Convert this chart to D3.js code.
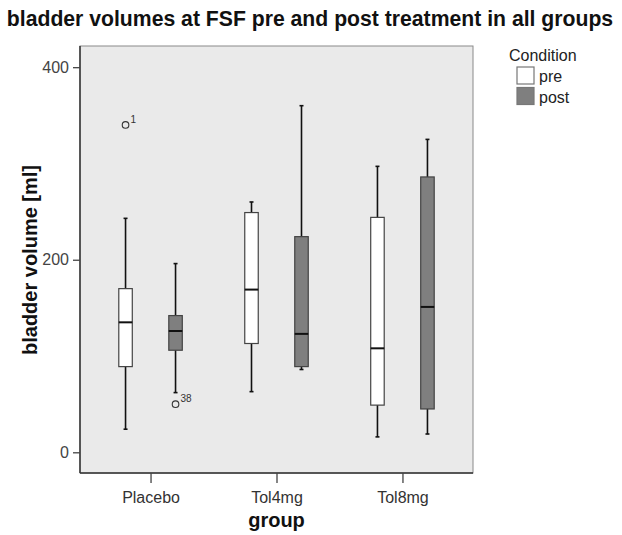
<!DOCTYPE html>
<html>
<head>
<meta charset="utf-8">
<script src="https://cdn.jsdelivr.net/npm/d3@7"></script>
<style>
  body { margin: 0; background: #fff; }
  text { font-family: "Liberation Sans", Arial, sans-serif; }
</style>
</head>
<body>
<svg id="chart"></svg>
<script>
// Chart data
const groups = ["Placebo", "Tol4mg", "Tol8mg"];
const conditions = ["pre", "post"];
const yTicks = [0, 200, 400];

// [whiskerLow, q1, median, q3, whiskerHigh] per group, per condition
const preStats = [
  [24, 89, 135, 170, 243],
  [63, 113, 169, 249, 260],
  [16, 49, 108, 244, 297]
];
const postStats = [
  [62, 106, 126, 142, 196],
  [86, 89, 123, 224, 360],
  [19, 45, 151, 286, 325]
];
// outliers: group, condition, value, case label
const outlierGroups = ["Placebo", "Placebo"];
const outlierConds = ["pre", "post"];
const outlierValues = [340, 50];
const outlierLabels = ["1", "38"];

const W = 622, H = 535;
const plot = { left: 80, right: 473, top: 46, bottom: 473 };

const svg = d3.select("#chart").attr("width", W).attr("height", H);

const x = d3.scalePoint().domain(groups).range([plot.left, plot.right]).padding(0.56);
const xSub = d3.scaleBand().domain(conditions).range([-50, 50]);
const y = d3.scaleLinear().domain([-21.5, 422]).range([plot.bottom, plot.top]);
const fill = d3.scaleOrdinal().domain(conditions).range(["#ffffff", "#7f7f7f"]);

const boxW = 13.5;

// title
svg.append("text")
  .attr("x", 310).attr("y", 26)
  .attr("text-anchor", "middle")
  .attr("font-size", 21.2).attr("font-weight", "bold").attr("fill", "#111")
  .text("bladder volumes at FSF pre and post treatment in all groups");

// plot background
svg.append("rect")
  .attr("x", plot.left).attr("y", plot.top)
  .attr("width", plot.right - plot.left).attr("height", plot.bottom - plot.top)
  .attr("fill", "#eaeaea").attr("stroke", "#8a8a8a").attr("stroke-width", 1);

// axes
const yAxis = d3.axisLeft(y).tickValues(yTicks).tickSize(7).tickPadding(4);
const yG = svg.append("g").attr("transform", `translate(${plot.left},0)`).call(yAxis);
yG.select(".domain").attr("stroke", "#333").attr("stroke-width", 1.5)
  .attr("d", `M0,${plot.top}V${plot.bottom}`);
yG.selectAll(".tick line").attr("stroke", "#444").attr("stroke-width", 1.3);
yG.selectAll(".tick text").attr("font-size", 16).attr("fill", "#444")
  .attr("font-family", "Liberation Sans, Arial, sans-serif");

const xAxis = d3.axisBottom(x).tickSize(10).tickPadding(9);
const xG = svg.append("g").attr("transform", `translate(0,${plot.bottom})`).call(xAxis);
xG.select(".domain").attr("stroke", "#333").attr("stroke-width", 1.5)
  .attr("d", `M${plot.left},0H${plot.right}`);
xG.selectAll(".tick line").attr("stroke", "#444").attr("stroke-width", 1.3);
xG.selectAll(".tick text").attr("font-size", 16).attr("fill", "#333")
  .attr("font-family", "Liberation Sans, Arial, sans-serif");

// axis titles
svg.append("text")
  .attr("x", x("Tol4mg")).attr("y", 527)
  .attr("text-anchor", "middle")
  .attr("font-size", 20).attr("font-weight", "bold").attr("fill", "#111")
  .text("group");

svg.append("text")
  .attr("transform", `translate(37,260) rotate(-90)`)
  .attr("text-anchor", "middle")
  .attr("font-size", 20).attr("font-weight", "bold").attr("fill", "#111")
  .text("bladder volume [ml]");

// boxes
const boxes = [];
groups.forEach((g, i) => {
  boxes.push({ group: g, cond: "pre", s: preStats[i] });
  boxes.push({ group: g, cond: "post", s: postStats[i] });
});

const bx = (d) => x(d.group) + xSub(d.cond) + xSub.bandwidth() / 2;

const bg = svg.append("g").selectAll("g").data(boxes).enter().append("g");

// whiskers
bg.append("line")
  .attr("x1", bx).attr("x2", bx)
  .attr("y1", (d) => y(d.s[0])).attr("y2", (d) => y(d.s[4]))
  .attr("stroke", "#111").attr("stroke-width", 1.6);
[0, 4].forEach((k) => {
  bg.append("line")
    .attr("x1", (d) => bx(d) - 2).attr("x2", (d) => bx(d) + 2)
    .attr("y1", (d) => y(d.s[k])).attr("y2", (d) => y(d.s[k]))
    .attr("stroke", "#111").attr("stroke-width", 1.6);
});

bg.append("rect")
  .attr("x", (d) => bx(d) - boxW / 2).attr("width", boxW)
  .attr("y", (d) => y(d.s[3])).attr("height", (d) => y(d.s[1]) - y(d.s[3]))
  .attr("fill", (d) => fill(d.cond))
  .attr("stroke", "#444").attr("stroke-width", 1.2);

bg.append("line")
  .attr("x1", (d) => bx(d) - boxW / 2).attr("x2", (d) => bx(d) + boxW / 2)
  .attr("y1", (d) => y(d.s[2])).attr("y2", (d) => y(d.s[2]))
  .attr("stroke", "#111").attr("stroke-width", 2);

// outliers
const outliers = outlierValues.map((v, i) => ({
  group: outlierGroups[i], cond: outlierConds[i], v, label: outlierLabels[i]
}));
const og = svg.append("g").selectAll("g").data(outliers).enter().append("g");
og.append("circle")
  .attr("cx", bx).attr("cy", (d) => y(d.v)).attr("r", 3.3)
  .attr("fill", "none").attr("stroke", "#333").attr("stroke-width", 1.1);
og.append("text")
  .attr("x", (d) => bx(d) + 5).attr("y", (d) => y(d.v) - 2)
  .attr("font-size", 10).attr("fill", "#333")
  .text((d) => d.label);

// legend
const lg = svg.append("g").attr("transform", "translate(509,0)");
lg.append("text").attr("x", 0).attr("y", 61)
  .attr("font-size", 16).attr("fill", "#222").text("Condition");
const li = lg.selectAll(".li").data(conditions).enter().append("g")
  .attr("transform", (d, i) => `translate(8,${67 + i * 20.5})`);
li.append("rect").attr("width", 17).attr("height", 17)
  .attr("fill", (d) => fill(d)).attr("stroke", "#777").attr("stroke-width", 1.2);
li.append("text").attr("x", 22).attr("y", 15)
  .attr("font-size", 16).attr("fill", "#222").text((d) => d);
</script>
</body>
</html>
